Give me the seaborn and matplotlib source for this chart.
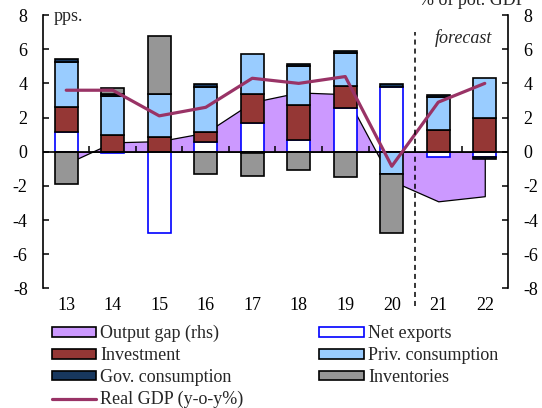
import numpy as np
import seaborn as sns
import matplotlib.pyplot as plt
from matplotlib.patches import Patch
from matplotlib.lines import Line2D

# contributions to real GDP growth, pps.
years = ['13', '14', '15', '16', '17', '18', '19', '20', '21', '22']
net_exports = [1.18, -0.08, -4.75, 0.56, 1.69, 0.66, 2.54, 3.80, -0.28, -0.28]
investment = [1.42, 0.97, 0.87, 0.62, 1.71, 2.08, 1.30, 0.0, 1.28, 2.00]
priv_cons = [2.67, 2.29, 2.53, 2.62, 2.31, 2.28, 1.91, -1.29, 1.92, 2.33]
gov_cons = [0.14, 0.14, 0.0, 0.14, -0.10, 0.12, 0.14, 0.14, 0.14, -0.14]
inventories = [-1.90, 0.34, 3.40, -1.33, -1.33, -1.09, -1.49, -3.46, 0.0, 0.0]
# output gap (rhs, % of pot. GDP) and real GDP growth
output_gap = [-0.70, 0.55, 0.62, 1.12, 2.90, 3.47, 3.37, -1.70, -2.90, -2.60]
real_gdp = [3.6, 3.6, 2.1, 2.6, 4.3, 4.0, 4.4, -0.85, 2.9, 4.0]

sns.set_theme(style='white')
plt.rcParams['font.family'] = ['Liberation Serif', 'DejaVu Serif']
plt.rcParams['font.size'] = 13
plt.rcParams['axes.unicode_minus'] = False

fig = plt.figure(figsize=(5.42, 4.08), dpi=100)
ax = fig.add_axes([0.0793, 0.2929, 0.858, 0.6703])

x = np.arange(len(years))

# output gap area behind the bars
ax.fill_between(x, 0, output_gap, facecolor='#CC99FF', edgecolor='black',
                linewidth=0.9, zorder=1)

# stacked bars, positives up and negatives down
series = [(net_exports, 'white', '#0000FF'),
          (investment, '#953735', 'black'),
          (priv_cons, '#99CCFF', 'black'),
          (gov_cons, '#17375E', 'black'),
          (inventories, '#969696', 'black')]
pos = np.zeros(len(x))
neg = np.zeros(len(x))
for vals, fc, ec in series:
    v = np.array(vals)
    base = np.where(v >= 0, pos, neg)
    m = v != 0
    ax.bar(x[m], v[m], bottom=base[m], width=0.5, color=fc, edgecolor=ec,
           linewidth=1.2, zorder=2)
    pos += np.where(v > 0, v, 0)
    neg += np.where(v < 0, v, 0)

ax.axhline(0, color='black', lw=1.2, zorder=4)
ax.vlines(np.arange(0.5, 9, 1), 0, 0.33, color='black', lw=1.1, zorder=4)

sns.lineplot(x=x, y=real_gdp, ax=ax, color='#993366', linewidth=2.3,
             zorder=5, legend=False)

ax.vlines(7.5, -9.0, 7.0, colors='black', linestyles=(0, (3.3, 2.6)),
          lw=1.1, clip_on=False, zorder=6)

ax.set_xlim(-0.5, 9.5)
ax.set_ylim(-8, 8)
ax.set_yticks(range(-8, 9, 2))
ax.set_xticks(x, years)
ax.set_xlabel('')
ax.set_ylabel('')
for s in ['top', 'bottom']:
    ax.spines[s].set_visible(False)
for s in ['left', 'right']:
    ax.spines[s].set_visible(True)
    ax.spines[s].set_color('black')
    ax.spines[s].set_linewidth(1.2)
ax.tick_params(axis='y', direction='in', length=4, width=1.1, left=True,
               right=True, labelleft=True, labelright=True, pad=11,
               colors='black', labelsize=13)
ax.tick_params(axis='x', length=0, pad=6, colors='black', labelsize=13)

ax.text(8.54, 6.36, 'forecast', style='italic', ha='center', va='baseline')
ax.text(-0.28, 7.65, 'pps.', ha='left', va='baseline')
fig.text(526 / 542, 1 - 5 / 408, '% of pot. GDP', ha='right', va='baseline')

handles = [Patch(facecolor='#CC99FF', edgecolor='black', lw=1.2),
           Patch(facecolor='#953735', edgecolor='black', lw=1.2),
           Patch(facecolor='#17375E', edgecolor='black', lw=1.2),
           Line2D([], [], color='#993366', lw=2.3),
           Patch(facecolor='white', edgecolor='#0000FF', lw=1.2),
           Patch(facecolor='#99CCFF', edgecolor='black', lw=1.2),
           Patch(facecolor='#969696', edgecolor='black', lw=1.2)]
labels = ['Output gap (rhs)', 'Investment', 'Gov. consumption',
          'Real GDP (y-o-y%)', 'Net exports', 'Priv. consumption', 'Inventories']
fig.legend(handles, labels, ncol=2, loc='upper left',
           bbox_to_anchor=(51.8 / 542, 1 - 325 / 408), frameon=False,
           fontsize=13, handlelength=2.45, handleheight=0.45,
           handletextpad=0.24, columnspacing=4.2, labelspacing=0.27,
           borderpad=0, borderaxespad=0)

fig.savefig('out.png', dpi=100)
